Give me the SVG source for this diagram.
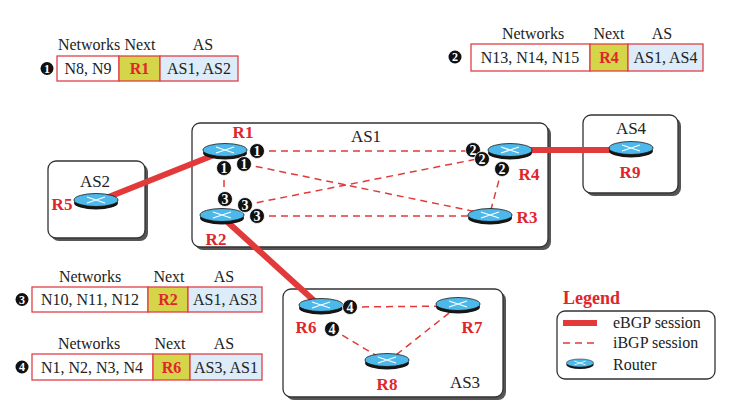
<svg xmlns="http://www.w3.org/2000/svg" xmlns:xlink="http://www.w3.org/1999/xlink" width="736" height="417" viewBox="0 0 736 417" font-family="Liberation Serif">
<style>
.box{fill:#fff;stroke:#333;stroke-width:1.3;}
.shadow{fill:#555;}
.lbl{font-size:17px;font-weight:bold;fill:#e0262c;text-anchor:middle;}
.as{font-size:17px;fill:#222;text-anchor:middle;}
.ebgp{stroke:#e23a3a;stroke-width:6;fill:none;}
.ibgp{stroke:#e23a3a;stroke-width:1.5;stroke-dasharray:7 5;fill:none;}
.badge circle{fill:#111;stroke:#fff;stroke-width:0.8;}
.badge text{font-size:14px;font-weight:bold;fill:#fff;text-anchor:middle;}
.tbadge circle{fill:#111;}
.tbadge text{font-size:12px;font-weight:bold;fill:#fff;text-anchor:middle;}
.hdr{font-size:16px;fill:#222;text-anchor:middle;}
.cell{font-size:16px;fill:#222;text-anchor:middle;}
.nxt{font-size:16px;font-weight:bold;fill:#e0262c;text-anchor:middle;}
.tb{stroke:#e04048;stroke-width:1.3;}
.w{fill:#fff;}
.y{fill:#d4d548;}
.b{fill:#dcecf8;}
.leg{font-size:16px;fill:#222;}
</style>
<defs>
<g id="router">
<ellipse cx="0" cy="3" rx="22" ry="6.5" fill="#151515"/>
<ellipse cx="0" cy="0" rx="22" ry="6.5" fill="#4db8ea" stroke="#151515" stroke-width="0.8"/>
<path d="M-9,-3 L9,3 M-9,3 L9,-3" stroke="#fff" stroke-width="1.3" fill="none"/>
</g>
</defs>

<!-- AS boxes -->
<g id="AS1">
<rect class="shadow" x="195" y="126" width="356" height="124" rx="8"/>
<rect class="box" x="192" y="123" width="356" height="124" rx="8"/>
<text class="as" x="366" y="142">AS1</text>
</g>
<g id="AS2">
<rect class="shadow" x="51" y="164" width="97" height="77" rx="8"/>
<rect class="box" x="48" y="161" width="97" height="77" rx="8"/>
<text class="as" x="95" y="187">AS2</text>
</g>
<g id="AS4">
<rect class="shadow" x="586" y="118" width="95" height="78" rx="8"/>
<rect class="box" x="583" y="115" width="95" height="78" rx="8"/>
<text class="as" x="631" y="134">AS4</text>
</g>
<g id="AS3">
<rect class="shadow" x="286" y="292" width="220" height="108" rx="8"/>
<rect class="box" x="283" y="289" width="220" height="108" rx="8"/>
<text class="as" x="465" y="388">AS3</text>
</g>

<!-- connectors -->
<g id="connectors">
<line class="ebgp" x1="96" y1="202" x2="224" y2="151"/>
<line class="ebgp" x1="510" y1="150" x2="631" y2="150"/>
<line class="ebgp" x1="222" y1="217" x2="321" y2="307"/>
<line class="ibgp" x1="257" y1="151" x2="473" y2="151"/>
<line class="ibgp" x1="244" y1="164" x2="482" y2="213"/>
<line class="ibgp" x1="245" y1="205" x2="482" y2="158"/>
<line class="ibgp" x1="257" y1="216" x2="470" y2="216"/>
<line class="ibgp" x1="224" y1="168" x2="224" y2="199"/>
<line class="ibgp" x1="502" y1="169" x2="490" y2="213"/>
<line class="ibgp" x1="350" y1="307" x2="458" y2="306"/>
<line class="ibgp" x1="332" y1="329" x2="387" y2="362"/>
<line class="ibgp" x1="387" y1="362" x2="458" y2="306"/>
</g>

<!-- routers -->
<g id="R1"><use xlink:href="#router" x="225" y="150"/><text class="lbl" x="243" y="138">R1</text></g>
<g id="R2"><use xlink:href="#router" x="222" y="215"/><text class="lbl" x="216" y="245">R2</text></g>
<g id="R3"><use xlink:href="#router" x="490" y="215"/><text class="lbl" x="527" y="223">R3</text></g>
<g id="R4"><use xlink:href="#router" x="510" y="150"/><text class="lbl" x="529" y="180">R4</text></g>
<g id="R5"><use xlink:href="#router" x="96" y="200"/><text class="lbl" x="62" y="210">R5</text></g>
<g id="R9"><use xlink:href="#router" x="631" y="148"/><text class="lbl" x="630" y="178">R9</text></g>
<g id="R6"><use xlink:href="#router" x="321" y="305"/><text class="lbl" x="306" y="333">R6</text></g>
<g id="R7"><use xlink:href="#router" x="458" y="304"/><text class="lbl" x="472" y="333">R7</text></g>
<g id="R8"><use xlink:href="#router" x="387" y="360"/><text class="lbl" x="387" y="390">R8</text></g>

<!-- badges -->
<g id="badges">
<g class="badge"><circle cx="224" cy="168" r="7.5"/><text x="224" y="173">1</text></g>
<g class="badge"><circle cx="244" cy="164" r="7.5"/><text x="244" y="169">1</text></g>
<g class="badge"><circle cx="257" cy="151" r="7.5"/><text x="257" y="156">1</text></g>
<g class="badge"><circle cx="225" cy="199" r="7.5"/><text x="225" y="204">3</text></g>
<g class="badge"><circle cx="245" cy="205" r="7.5"/><text x="245" y="210">3</text></g>
<g class="badge"><circle cx="257" cy="216" r="7.5"/><text x="257" y="221">3</text></g>
<g class="badge"><circle cx="473" cy="150" r="7.5"/><text x="473" y="155">2</text></g>
<g class="badge"><circle cx="482" cy="159" r="7.5"/><text x="482" y="164">2</text></g>
<g class="badge"><circle cx="502" cy="169" r="7.5"/><text x="502" y="174">2</text></g>
<g class="badge"><circle cx="350" cy="307" r="7.5"/><text x="350" y="312">4</text></g>
<g class="badge"><circle cx="332" cy="329" r="7.5"/><text x="332" y="334">4</text></g>
</g>

<!-- tables -->
<g id="table1">
<g class="tbadge"><circle cx="47" cy="68.5" r="6.5"/><text x="47" y="72.8">1</text></g>
<text class="hdr" x="89" y="50">Networks</text>
<text class="hdr" x="140" y="50">Next</text>
<text class="hdr" x="203" y="50">AS</text>
<rect class="tb w" x="57" y="56" width="62" height="25"/>
<rect class="tb y" x="119" y="56" width="41" height="25"/>
<rect class="tb b" x="160" y="56" width="78" height="25"/>
<text class="cell" x="88" y="74">N8, N9</text>
<text class="nxt" x="139.5" y="74">R1</text>
<text class="cell" x="199" y="74">AS1, AS2</text>
</g>
<g id="table2">
<g class="tbadge"><circle cx="455" cy="57" r="6.5"/><text x="455" y="61.3">2</text></g>
<text class="hdr" x="533" y="39">Networks</text>
<text class="hdr" x="609" y="39">Next</text>
<text class="hdr" x="662" y="39">AS</text>
<rect class="tb w" x="471" y="44" width="119" height="27"/>
<rect class="tb y" x="590" y="44" width="38" height="27"/>
<rect class="tb b" x="628" y="44" width="75" height="27"/>
<text class="cell" x="530" y="63">N13, N14, N15</text>
<text class="nxt" x="609" y="63">R4</text>
<text class="cell" x="665.5" y="63">AS1, AS4</text>
</g>
<g id="table3">
<g class="tbadge"><circle cx="22" cy="299.5" r="6.5"/><text x="22" y="303.8">3</text></g>
<text class="hdr" x="90" y="282">Networks</text>
<text class="hdr" x="169" y="282">Next</text>
<text class="hdr" x="224" y="282">AS</text>
<rect class="tb w" x="32" y="287" width="116" height="25"/>
<rect class="tb y" x="148" y="287" width="40" height="25"/>
<rect class="tb b" x="188" y="287" width="74" height="25"/>
<text class="cell" x="90" y="305">N10, N11, N12</text>
<text class="nxt" x="168" y="305">R2</text>
<text class="cell" x="225" y="305">AS1, AS3</text>
</g>
<g id="table4">
<g class="tbadge"><circle cx="22" cy="367" r="6.5"/><text x="22" y="371.3">4</text></g>
<text class="hdr" x="89" y="349">Networks</text>
<text class="hdr" x="170" y="349">Next</text>
<text class="hdr" x="224" y="349">AS</text>
<rect class="tb w" x="32" y="354" width="121" height="26"/>
<rect class="tb y" x="153" y="354" width="37" height="26"/>
<rect class="tb b" x="190" y="354" width="72" height="26"/>
<text class="cell" x="92" y="373">N1, N2, N3, N4</text>
<text class="nxt" x="171.5" y="373">R6</text>
<text class="cell" x="226" y="373">AS3, AS1</text>
</g>

<!-- legend -->
<g id="legend">
<text x="563" y="304" font-size="18" font-weight="bold" fill="#e0262c">Legend</text>
<rect class="box" x="557" y="311" width="158" height="68" rx="8"/>
<line class="ebgp" x1="563" y1="323" x2="597" y2="323" stroke-width="5"/>
<line class="ibgp" x1="563" y1="343" x2="599" y2="343"/>
<use xlink:href="#router" transform="translate(580,363) scale(0.62)"/>
<text class="leg" x="613" y="328">eBGP session</text>
<text class="leg" x="613" y="348">iBGP session</text>
<text class="leg" x="613" y="370">Router</text>
</g>
</svg>
